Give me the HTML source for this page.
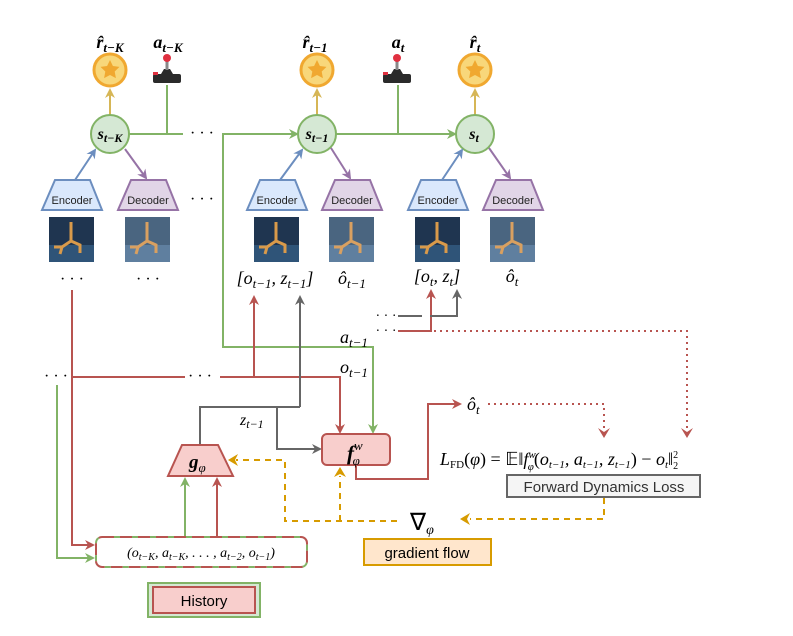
<!DOCTYPE html>
<html><head><meta charset="utf-8"><style>
body{margin:0;background:#fff}
svg{display:block}
text{font-family:"Liberation Serif",serif}
text.s{font-family:"Liberation Sans",sans-serif}
</style></head><body>
<svg width="793" height="636" viewBox="0 0 793 636" xmlns="http://www.w3.org/2000/svg">
<defs>
<marker id="ag" markerWidth="10" markerHeight="10" refX="8" refY="5" orient="auto" markerUnits="userSpaceOnUse"><path d="M0,0 L10,5 L0,10 L3,5Z" fill="#82b366"/></marker>
<marker id="ar" markerWidth="10" markerHeight="10" refX="8" refY="5" orient="auto" markerUnits="userSpaceOnUse"><path d="M0,0 L10,5 L0,10 L3,5Z" fill="#b85450"/></marker>
<marker id="ak" markerWidth="10" markerHeight="10" refX="8" refY="5" orient="auto" markerUnits="userSpaceOnUse"><path d="M0,0 L10,5 L0,10 L3,5Z" fill="#666"/></marker>
<marker id="ab" markerWidth="10" markerHeight="10" refX="8" refY="5" orient="auto" markerUnits="userSpaceOnUse"><path d="M0,0 L10,5 L0,10 L3,5Z" fill="#6c8ebf"/></marker>
<marker id="ap" markerWidth="10" markerHeight="10" refX="8" refY="5" orient="auto" markerUnits="userSpaceOnUse"><path d="M0,0 L10,5 L0,10 L3,5Z" fill="#9673a6"/></marker>
<marker id="ay" markerWidth="10" markerHeight="10" refX="8" refY="5" orient="auto" markerUnits="userSpaceOnUse"><path d="M0,0 L10,5 L0,10 L3,5Z" fill="#d6b656"/></marker>
<g id="img"><rect x="-23" y="0" width="45" height="45" fill="#1f3550"/><rect x="-23" y="28" width="45" height="17" fill="#2f5478"/><path d="M-1,5 L-1,24 L-10,30 L-18,30 M-1,24 L8,28 L8,36 M-10,30 L-12,37" stroke="#d99a4a" stroke-width="3" fill="none"/></g>
<g id="imgd"><rect x="-23" y="0" width="45" height="45" fill="#4a6580"/><rect x="-23" y="28" width="45" height="17" fill="#5f7f9f"/><path d="M-1,5 L-1,24 L-10,30 L-18,30 M-1,24 L8,28 L8,36 M-10,30 L-12,37" stroke="#d9a060" stroke-width="3" fill="none"/></g>
<g id="star"><circle r="16" fill="#f8d77a" stroke="#f0a830" stroke-width="3"/><path d="M0,-10 L2.9,-4 L9.5,-3.1 L4.7,1.5 L5.9,8.1 L0,5 L-5.9,8.1 L-4.7,1.5 L-9.5,-3.1 L-2.9,-4Z" fill="#f0a830"/></g>
<g id="joy"><rect x="-14" y="8" width="28" height="9" rx="2" fill="#2b2b2b"/><path d="M-6,8 L6,8 L3,3 L-3,3Z" fill="#2b2b2b"/><rect x="-1.5" y="-6" width="3" height="10" fill="#888"/><circle cy="-8" r="4" fill="#e03040"/><rect x="-14" y="6" width="5" height="3" fill="#e03040"/></g>
</defs>

<text x="110" y="48" font-size="18" font-style="italic" font-weight="bold" text-anchor="middle">r̂<tspan font-size="13" dy="4">t−K</tspan></text>
<text x="168" y="48" font-size="18" font-style="italic" font-weight="bold" text-anchor="middle">a<tspan font-size="13" dy="4">t−K</tspan></text>
<text x="315" y="48" font-size="18" font-style="italic" font-weight="bold" text-anchor="middle">r̂<tspan font-size="13" dy="4">t−1</tspan></text>
<text x="398" y="48" font-size="18" font-style="italic" font-weight="bold" text-anchor="middle">a<tspan font-size="13" dy="4">t</tspan></text>
<text x="475" y="48" font-size="18" font-style="italic" font-weight="bold" text-anchor="middle">r̂<tspan font-size="13" dy="4">t</tspan></text>
<use href="#star" x="110" y="70"/><use href="#star" x="317" y="70"/><use href="#star" x="475" y="70"/>
<use href="#joy" x="167" y="66"/><use href="#joy" x="397" y="66"/>

<g stroke="#82b366" stroke-width="2" fill="none">
<path d="M129,134 L183,134 M167,85 L167,134"/>
<path d="M222,134 L297,134" marker-end="url(#ag)"/>
<path d="M336,134 L455,134" marker-end="url(#ag)"/>
<path d="M398,85 L398,134"/>
<path d="M223,134 L223,347 L373,347 L373,432" marker-end="url(#ag)"/>
</g>
<text x="202" y="138" font-size="16" text-anchor="middle">· · ·</text>
<text x="202" y="204" font-size="16" text-anchor="middle">· · ·</text>
<g stroke="#d6b656" stroke-width="2"><path d="M110,115 L110,90" marker-end="url(#ay)"/><path d="M317,115 L317,90" marker-end="url(#ay)"/><path d="M475,115 L475,90" marker-end="url(#ay)"/></g>
<g fill="#d5e8d4" stroke="#82b366" stroke-width="2"><circle cx="110" cy="134" r="19"/><circle cx="317" cy="134" r="19"/><circle cx="475" cy="134" r="19"/></g>
<text x="110" y="139" font-size="16" font-style="italic" font-weight="bold" text-anchor="middle">s<tspan font-size="12" dy="3">t−K</tspan></text>
<text x="317" y="139" font-size="16" font-style="italic" font-weight="bold" text-anchor="middle">s<tspan font-size="12" dy="3">t−1</tspan></text>
<text x="474" y="139" font-size="16" font-style="italic" font-weight="bold" text-anchor="middle">s<tspan font-size="12" dy="3">t</tspan></text>
<g stroke-width="2"><path d="M75,180 L95,150" stroke="#6c8ebf" marker-end="url(#ab)"/><path d="M125,149 L146,178" stroke="#9673a6" marker-end="url(#ap)"/>
<path d="M280,180 L302,150" stroke="#6c8ebf" marker-end="url(#ab)"/><path d="M331,148 L350,178" stroke="#9673a6" marker-end="url(#ap)"/>
<path d="M442,180 L462,150" stroke="#6c8ebf" marker-end="url(#ab)"/><path d="M489,148 L510,178" stroke="#9673a6" marker-end="url(#ap)"/></g>
<g stroke-width="2">
<path d="M55,180 L90,180 L102,210 L42,210Z" fill="#dae8fc" stroke="#6c8ebf"/>
<path d="M131,180 L166,180 L178,210 L118,210Z" fill="#e1d5e7" stroke="#9673a6"/>
<path d="M260,180 L295,180 L307,210 L247,210Z" fill="#dae8fc" stroke="#6c8ebf"/>
<path d="M335,180 L370,180 L382,210 L322,210Z" fill="#e1d5e7" stroke="#9673a6"/>
<path d="M421,180 L456,180 L468,210 L408,210Z" fill="#dae8fc" stroke="#6c8ebf"/>
<path d="M496,180 L531,180 L543,210 L483,210Z" fill="#e1d5e7" stroke="#9673a6"/>
</g>
<g font-size="11" text-anchor="middle" fill="#222">
<text class="s" x="72" y="204">Encoder</text><text class="s" x="148" y="204">Decoder</text>
<text class="s" x="277" y="204">Encoder</text><text class="s" x="352" y="204">Decoder</text>
<text class="s" x="438" y="204">Encoder</text><text class="s" x="513" y="204">Decoder</text>
</g>
<use href="#img" x="72" y="217"/><use href="#imgd" x="148" y="217"/>
<use href="#img" x="277" y="217"/><use href="#imgd" x="352" y="217"/>
<use href="#img" x="438" y="217"/><use href="#imgd" x="513" y="217"/>
<text x="72" y="284" font-size="16" text-anchor="middle">· · ·</text>
<text x="148" y="284" font-size="16" text-anchor="middle">· · ·</text>
<text x="275" y="284" font-size="18" font-style="italic" text-anchor="middle">[o<tspan font-size="13" dy="4">t−1</tspan><tspan dy="-4">, z</tspan><tspan font-size="13" dy="4">t−1</tspan><tspan dy="-4">]</tspan></text>
<text x="352" y="284" font-size="18" font-style="italic" text-anchor="middle">ô<tspan font-size="13" dy="4">t−1</tspan></text>
<text x="437" y="282" font-size="18" font-style="italic" text-anchor="middle">[o<tspan font-size="13" dy="4">t</tspan><tspan dy="-4">, z</tspan><tspan font-size="13" dy="4">t</tspan><tspan dy="-4">]</tspan></text>
<text x="512" y="282" font-size="18" font-style="italic" text-anchor="middle">ô<tspan font-size="13" dy="4">t</tspan></text>

<g stroke="#b85450" stroke-width="2" fill="none">
<path d="M72,290 L72,545 L93,545" marker-end="url(#ar)"/>
<path d="M72,377 L185,377 M220,377 L340,377 L340,432" marker-end="url(#ar)"/>
<path d="M254,377 L254,297" marker-end="url(#ar)"/>
<path d="M356,465 L356,479 L428,479 L428,404 L460,404" marker-end="url(#ar)"/>
<path d="M398,331 L431,331 L431,291" marker-end="url(#ar)"/>
<path d="M217,536 L217,479" marker-end="url(#ar)"/>
</g>
<g stroke="#b85450" stroke-width="2" fill="none" stroke-dasharray="2,4">
<path d="M488,404 L604,404 L604,428"/>
<path d="M434,331 L687,331 L687,428"/>
</g>
<path d="M598,428 L604,438 L610,428 L604,432Z" fill="#b85450"/>
<path d="M681,428 L687,438 L693,428 L687,432Z" fill="#b85450"/>
<text x="200" y="381" font-size="16" text-anchor="middle">· · ·</text>
<text x="56" y="381" font-size="16" text-anchor="middle">· · ·</text>
<text x="386" y="320" font-size="14" text-anchor="middle">· · ·</text>
<text x="386" y="335" font-size="14" text-anchor="middle">· · ·</text>
<text x="467" y="410" font-size="18" font-style="italic">ô<tspan font-size="13" dy="4">t</tspan></text>

<g stroke="#666" stroke-width="2" fill="none">
<path d="M300,407 L300,297" marker-end="url(#ak)"/>
<path d="M300,407 L200,407 L200,445"/>
<path d="M277,407 L277,449 L320,449" marker-end="url(#ak)"/>
<path d="M398,316 L422,316 M430,316 L457,316 L457,291" marker-end="url(#ak)"/>
</g>
<text x="240" y="425" font-size="16" font-style="italic">z<tspan font-size="12" dy="3">t−1</tspan></text>
<text x="340" y="343" font-size="18" font-style="italic">a<tspan font-size="13" dy="4">t−1</tspan></text>
<text x="340" y="373" font-size="18" font-style="italic">o<tspan font-size="13" dy="4">t−1</tspan></text>

<rect x="322" y="434" width="68" height="31" rx="5" fill="#f8cecc" stroke="#b85450" stroke-width="2"/>
<text x="347" y="460" font-size="21" font-style="italic" font-weight="bold">f<tspan font-size="13" dy="-10" font-weight="normal">w</tspan><tspan font-size="13" dx="-10" dy="15" font-weight="normal">φ</tspan></text>
<path d="M182,445 L218,445 L233,476 L168,476Z" fill="#f8cecc" stroke="#b85450" stroke-width="2"/>
<text x="189" y="468" font-size="19" font-style="italic" font-weight="bold">g<tspan font-size="13" dy="4" font-weight="normal">φ</tspan></text>
<path d="M185,536 L185,479" stroke="#82b366" stroke-width="2" marker-end="url(#ag)"/>
<path d="M57,385 L57,558 L93,558" stroke="#82b366" stroke-width="2" fill="none" marker-end="url(#ag)"/>

<rect x="96" y="537" width="211" height="30" rx="6" fill="none" stroke="#b85450" stroke-width="2" stroke-dasharray="12,6"/>
<rect x="96" y="537" width="211" height="30" rx="6" fill="none" stroke="#82b366" stroke-width="2" stroke-dasharray="6,12" stroke-dashoffset="-12"/>
<text x="201" y="557" font-size="14" font-style="italic" text-anchor="middle">(o<tspan font-size="10" dy="3">t−K</tspan><tspan dy="-3">, a</tspan><tspan font-size="10" dy="3">t−K</tspan><tspan dy="-3">, . . . , a</tspan><tspan font-size="10" dy="3">t−2</tspan><tspan dy="-3">, o</tspan><tspan font-size="10" dy="3">t−1</tspan><tspan dy="-3">)</tspan></text>

<rect x="148" y="583" width="112" height="34" fill="#d5e8d4" stroke="#82b366" stroke-width="2"/>
<rect x="153" y="587" width="102" height="26" fill="#f8cecc" stroke="#b85450" stroke-width="2"/>
<text class="s" x="204" y="606" font-size="15" text-anchor="middle">History</text>
<rect x="364" y="539" width="127" height="26" fill="#ffe6cc" stroke="#d79b00" stroke-width="2"/>
<text class="s" x="427" y="558" font-size="15" text-anchor="middle">gradient flow</text>
<rect x="507" y="475" width="193" height="22" fill="#f5f5f5" stroke="#666" stroke-width="2"/>
<text class="s" x="604" y="492" font-size="15" text-anchor="middle" fill="#333">Forward Dynamics Loss</text>

<g stroke="#d79b00" stroke-width="2" fill="none" stroke-dasharray="6,5">
<path d="M604,498 L604,519 L470,519"/>
<path d="M397,521 L285,521 L285,460 L236,460"/>
<path d="M340,521 L340,476"/>
</g>
<path d="M460,519 L470,513 L467,519 L470,525Z" fill="#d79b00"/>
<path d="M228,460 L238,454 L235,460 L238,466Z" fill="#d79b00"/>
<path d="M340,467 L334,477 L340,474 L346,477Z" fill="#d79b00"/>
<text x="410" y="530" font-size="24">∇<tspan font-size="14" font-style="italic" dy="4">φ</tspan></text>

<text x="440" y="465" font-size="18" font-style="italic">L<tspan font-size="11" font-style="normal" dy="3">FD</tspan><tspan dy="-3" font-style="normal">(</tspan>φ<tspan font-style="normal">) = 𝔼‖</tspan>f<tspan font-size="11" dy="-7">w</tspan><tspan font-size="11" dx="-8" dy="12">φ</tspan><tspan dy="-5" font-style="normal">(</tspan>o<tspan font-size="11" dy="3">t−1</tspan><tspan dy="-3">, a</tspan><tspan font-size="11" dy="3">t−1</tspan><tspan dy="-3">, z</tspan><tspan font-size="11" dy="3">t−1</tspan><tspan dy="-3" font-style="normal">) − </tspan>o<tspan font-size="11" dy="3">t</tspan><tspan dy="-3" font-style="normal">‖</tspan><tspan font-size="10" dy="-7" font-style="normal">2</tspan><tspan font-size="10" dx="-5" dy="11" font-style="normal">2</tspan></text>
</svg>
</body></html>
